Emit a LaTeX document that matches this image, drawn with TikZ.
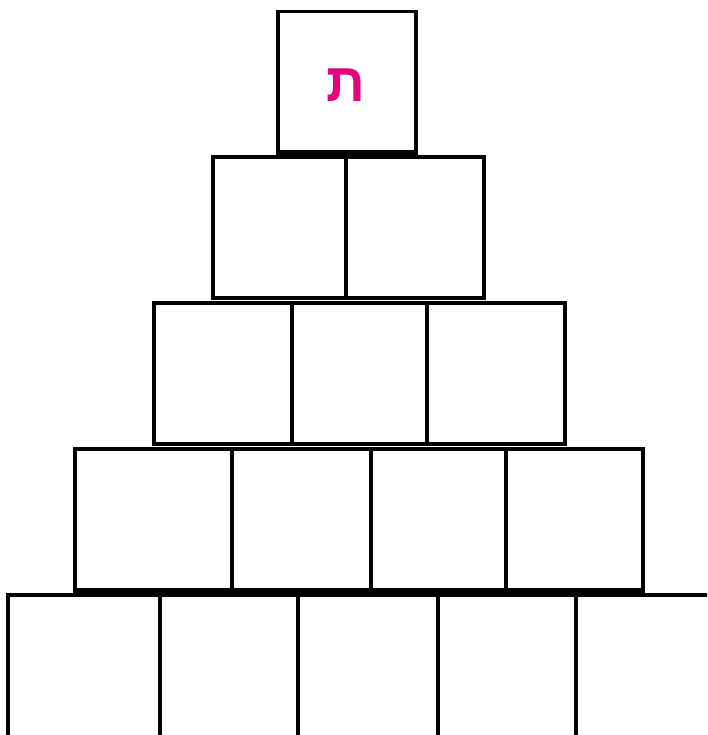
\documentclass[tikz,border=0pt]{standalone}
\usepackage{fontspec}
\newfontfamily\hebfont[Script=Hebrew]{Liberation Sans}
\TeXXeTstate=1
\definecolor{tavpink}{RGB}{230,0,126}
\tikzset{
  cellline/.style={draw=black, line width=3.6pt, line cap=rect},
  baseline/.style={draw=black, line width=4.6pt, line cap=rect},
}
\begin{document}
\begin{tikzpicture}[x=1pt,y=-1pt]
\useasboundingbox (0,0) rectangle (707,735);
\clip (0,0) rectangle (707,735);
% row 1
\draw[cellline] (278,11.5) rectangle (416,152.5);
\draw[baseline] (278,152.5) -- (416,152.5);
\node[font=\hebfont\bfseries\fontsize{54}{54}\selectfont, text=tavpink, inner sep=0pt] (tav) at (346,85) {\beginR ת\endR};
% row 2
\draw[cellline] (213,157) rectangle (484,298);
\draw[baseline] (213,298) -- (484,298);
\draw[cellline] (346,157) -- (346,298);
% row 3
\draw[cellline] (154,303) rectangle (565,444);
\draw[baseline] (154,444) -- (565,444);
\draw[cellline] (292,303) -- (292,444);
\draw[cellline] (427,303) -- (427,444);
% row 4
\draw[cellline] (75,449) rectangle (643,590.5);
\draw[baseline] (75,590.5) -- (643,590.5);
\draw[cellline] (232,449) -- (232,590.5);
\draw[cellline] (371,449) -- (371,590.5);
\draw[cellline] (506,449) -- (506,590.5);
% row 5
\draw[cellline] (8,760) -- (8,595) -- (720,595);
\draw[cellline] (160,595) -- (160,760);
\draw[cellline] (298,595) -- (298,760);
\draw[cellline] (438,595) -- (438,760);
\draw[cellline] (576,595) -- (576,760);
\end{tikzpicture}
\end{document}
